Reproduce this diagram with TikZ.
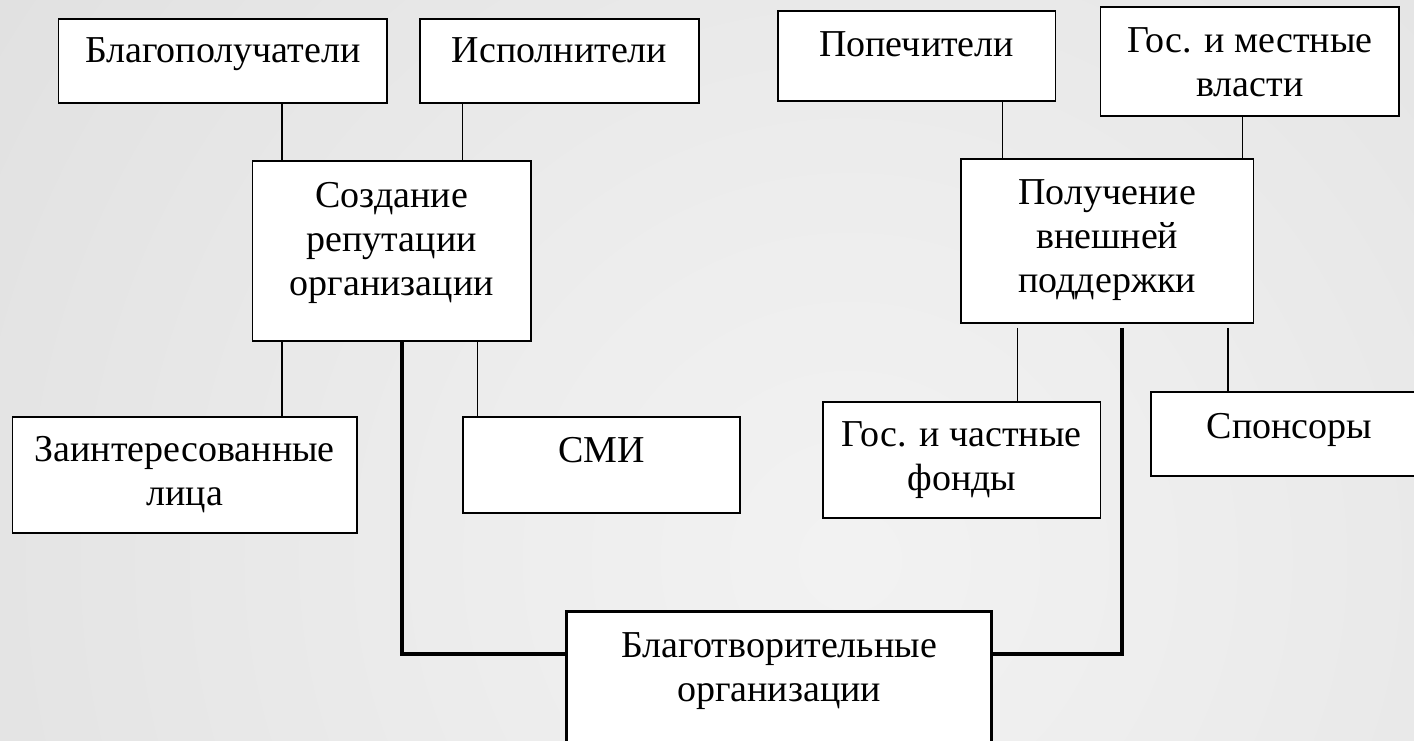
\documentclass[tikz,border=0pt]{standalone}
\usepackage{fontspec}
\setmainfont{Liberation Serif}
\usetikzlibrary{calc}
\definecolor{bgA}{gray}{0.95}
\definecolor{bgB}{gray}{0.93}
\definecolor{bgC}{gray}{0.87}
\definecolor{bgD}{gray}{0.74}
\definecolor{bgE}{gray}{0.67}
\definecolor{bgF}{gray}{0.65}
\pgfdeclareradialshading{bgshade}{\pgfpoint{0bp}{0bp}}{color(0bp)=(bgA); color(8bp)=(bgB); color(27bp)=(bgC); color(38bp)=(bgD); color(46bp)=(bgE); color(50bp)=(bgF)}
\tikzset{
  boxn/.style={draw=black, line width=1.6pt, fill=white, inner sep=0pt, rectangle},
  boldbox/.style={boxn, line width=3.5pt},
  lbl/.style={font=\fontsize{38}{44}\selectfont, align=center, inner sep=0pt, anchor=base},
  thinln/.style={line width=1.4pt},
  thickln/.style={line width=3.5pt},
}
\begin{document}
\begin{tikzpicture}[x=1pt,y=-1pt]
\useasboundingbox (0,0) rectangle (1414,741);
\clip (0,0) rectangle (1414,741);
\shade[shading=bgshade] (-250,-540) rectangle (1950,1660);

% boxes
\node[boxn, minimum width=328.3pt, minimum height=84pt] (b1) at (222.75,61) {};
\node[boxn, minimum width=279pt, minimum height=84pt] (b2) at (559.5,61) {};
\node[boxn, minimum width=278.5pt, minimum height=180pt] (cr) at (391.75,251) {};
\node[boxn, minimum width=277.7pt, minimum height=90pt] (pp) at (916.65,56) {};
\node[boxn, minimum width=298.4pt, minimum height=109pt] (gm) at (1249.8,61.5) {};
\node[boxn, minimum width=292.5pt, minimum height=164pt] (pl) at (1107.25,241) {};
\node[boxn, minimum width=344.4pt, minimum height=116pt] (zi) at (184.8,474.7) {};
\node[boxn, minimum width=277pt, minimum height=96pt] (smi) at (601.5,464.7) {};
\node[boxn, minimum width=277.6pt, minimum height=116pt] (gf) at (961.8,459.7) {};
\node[boxn, minimum width=277.3pt, minimum height=84.3pt] (sp) at (1289.35,433.85) {};
\node[boldbox, minimum width=425pt, minimum height=188.3pt] (bt) at (779.2,705.85) {};

% labels (anchor = baseline of the last line)
\node[lbl] (t1) at (222.75,63) {Благополучатели};
\node[lbl] (t2) at (559.5,63) {Исполнители};
\node[lbl] (tcr) at (391.75,295) {Создание\\репутации\\организации};
\node[lbl] (tpp) at (916.65,57) {Попечители};
\node[lbl] (tgm) at (1249.8,97) {Гос. и местные\\власти};
\node[lbl] (tpl) at (1107.25,292.5) {Получение\\внешней\\поддержки};
\node[lbl] (tzi) at (184.8,505.5) {Заинтересованные\\лица};
\node[lbl] (tsmi) at (601.5,462.7) {СМИ};
\node[lbl] (tgf) at (961.8,490.7) {Гос. и частные\\фонды};
\node[lbl] (tsp) at (1289.35,438.3) {Спонсоры};
\node[lbl] (tbt) at (779.2,701) {Благотворительные\\организации};

% connectors, left group
\draw[thinln] ($(cr.north west)+(30.2,0)$) -- ($(cr.north west |- b1.south)+(30.2,0)$);
\draw[thinln] ($(cr.north west)+(210.5,0)$) -- ($(cr.north west |- b2.south)+(210.5,0)$);
\draw[thinln] ($(cr.south west)+(30.2,0)$) -- ($(cr.south west |- zi.north)+(30.2,0)$);
\draw[thinln] ($(cr.south west)+(225.5,0)$) -- ($(cr.south west |- smi.north)+(225.5,0)$);
\draw[thickln] ($(cr.south west)+(150.1,0)$) |- ($(bt.north west)+(0,44)$);

% connectors, right group
\draw[thinln] ($(pl.north west)+(42,0)$) -- ($(pl.north west |- pp.south)+(42,0)$);
\draw[thinln] ($(pl.north west)+(282,0)$) -- ($(pl.north west |- gm.south)+(282,0)$);
\draw[thinln] ($(pl.south west)+(57,4)$) -- ($(pl.south west |- gf.north)+(57,0)$);
\draw[thinln] ($(pl.south west)+(267.7,4)$) -- ($(pl.south west |- sp.north)+(267.7,0)$);
\draw[thickln] ($(pl.south west)+(161.7,4)$) |- ($(bt.north east)+(0,44)$);
\end{tikzpicture}
\end{document}
